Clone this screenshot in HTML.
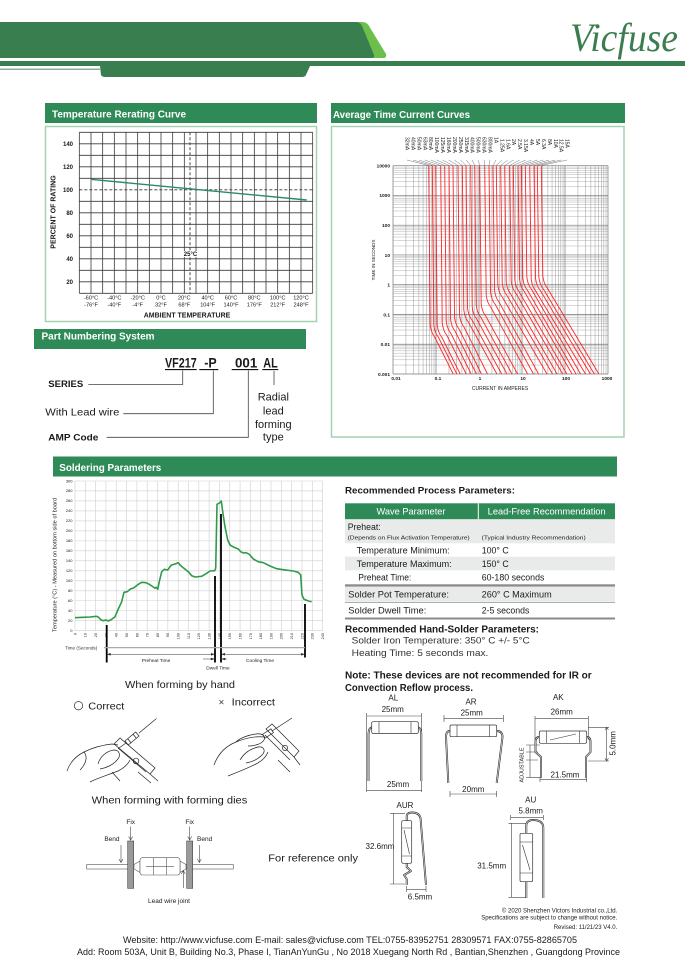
<!DOCTYPE html>
<html><head><meta charset="utf-8"><style>
html,body{margin:0;padding:0;background:#fff;}
svg{display:block;}
text{font-family:"Liberation Sans",Arial,sans-serif;fill:#1a1a1a;}
.b{font-weight:bold;}
.w{fill:#fff;font-weight:bold;}
.g{fill:#333;}
</style></head><body>
<svg width="685" height="960" viewBox="0 0 685 960" xmlns="http://www.w3.org/2000/svg">
<!-- HEADER -->
<path d="M0 22H362Q367 22 369 26L386 54Q387 58 383 58H0Z" fill="#6dbf4b"/>
<path d="M0 22H356Q360 22 362 26L374 55Q375 58 371 58H0Z" fill="#387e4e"/>
<rect x="0" y="61" width="685" height="5" fill="#387e4e"/>
<rect x="0" y="68.5" width="100" height="1.5" fill="#8fae98"/>
<path d="M100 66H310L306 75Q305 77 302 77H105Q102 77 101 75Z" fill="#387e4e"/>
<text x="570" y="51" style="font-family:'Liberation Serif',serif;font-style:italic;font-size:40px;fill:#3c7d50" textLength="108" lengthAdjust="spacingAndGlyphs">Vicfuse</text>

<!-- TEMPERATURE RERATING -->
<rect x="45" y="103" width="272" height="20" fill="#2e8b57"/>
<text x="52" y="117.5" class="w" font-size="10.5" textLength="134" lengthAdjust="spacingAndGlyphs">Temperature Rerating Curve</text>
<rect x="45.5" y="126.5" width="271" height="195" fill="none" stroke="#a3d3b0" stroke-width="1.5"/>
<g stroke="#3a3a3a" stroke-width="0.8" fill="none">
<path d="M79.33 132.3V293.3M91 132.3V293.3M102.67 132.3V293.3M114.33 132.3V293.3M126 132.3V293.3M137.67 132.3V293.3M149.33 132.3V293.3M161 132.3V293.3M172.67 132.3V293.3M184.33 132.3V293.3M196 132.3V293.3M207.67 132.3V293.3M219.33 132.3V293.3M231 132.3V293.3M242.67 132.3V293.3M254.33 132.3V293.3M266 132.3V293.3M277.67 132.3V293.3M289.33 132.3V293.3M301 132.3V293.3M312.67 132.3V293.3"/>
<path d="M79.33 132.3H312.67M79.33 143.8H312.67M79.33 155.3H312.67M79.33 166.8H312.67M79.33 178.3H312.67M79.33 201.3H312.67M79.33 212.8H312.67M79.33 224.3H312.67M79.33 235.8H312.67M79.33 247.3H312.67M79.33 258.8H312.67M79.33 270.3H312.67M79.33 281.8H312.67M79.33 293.3H312.67"/>
</g>
<path d="M79.33 189.8H312.67M190 132.3V293.3" stroke="#333" stroke-width="0.9" stroke-dasharray="3,2" fill="none"/>
<line x1="90.7" y1="179.3" x2="306.7" y2="200" stroke="#2a8a6a" stroke-width="1.4"/>
<rect x="183" y="251" width="15" height="6" fill="#fff"/>
<text x="190.5" y="256" class="b" font-size="6" text-anchor="middle">25°C</text>
<g class="b" font-size="6" text-anchor="end">
<text x="73" y="146">140</text><text x="73" y="169">120</text><text x="73" y="192">100</text><text x="73" y="215">80</text><text x="73" y="238">60</text><text x="73" y="261">40</text><text x="73" y="284">20</text>
</g>
<g font-size="5.6" text-anchor="middle">
<text x="91" y="299.5">-60°C</text><text x="91" y="306.5">-76°F</text>
<text x="114.3" y="299.5">-40°C</text><text x="114.3" y="306.5">-40°F</text>
<text x="137.7" y="299.5">-20°C</text><text x="137.7" y="306.5">-4°F</text>
<text x="161" y="299.5">0°C</text><text x="161" y="306.5">32°F</text>
<text x="184.3" y="299.5">20°C</text><text x="184.3" y="306.5">68°F</text>
<text x="207.7" y="299.5">40°C</text><text x="207.7" y="306.5">104°F</text>
<text x="231" y="299.5">60°C</text><text x="231" y="306.5">140°F</text>
<text x="254.3" y="299.5">80°C</text><text x="254.3" y="306.5">176°F</text>
<text x="277.7" y="299.5">100°C</text><text x="277.7" y="306.5">212°F</text>
<text x="301" y="299.5">120°C</text><text x="301" y="306.5">248°F</text>
</g>
<text x="187" y="317.5" class="b" font-size="7" text-anchor="middle">AMBIENT TEMPERATURE</text>
<text transform="translate(55.5,212) rotate(-90)" class="b" font-size="7" text-anchor="middle">PERCENT OF RATING</text>

<!-- AVERAGE TIME CURRENT -->
<rect x="331" y="103" width="294" height="20" fill="#2e8b57"/>
<text x="333" y="118" class="w" font-size="10.5" textLength="137" lengthAdjust="spacingAndGlyphs">Average Time Current Curves</text>
<rect x="331.5" y="126.5" width="292.5" height="310.5" fill="none" stroke="#a3d3b0" stroke-width="1.5"/>
<g fill="none">
<path stroke="#b0b0b0" stroke-width="0.5" d="M393 365.04H608M393 359.8H608M393 356.08H608M393 353.2H608M393 350.84H608M393 348.85H608M393 347.13H608M393 345.61H608M393 335.28H608M393 330.04H608M393 326.32H608M393 323.44H608M393 321.08H608M393 319.09H608M393 317.37H608M393 315.85H608M393 305.52H608M393 300.28H608M393 296.56H608M393 293.68H608M393 291.32H608M393 289.33H608M393 287.61H608M393 286.09H608M393 275.76H608M393 270.52H608M393 266.8H608M393 263.92H608M393 261.56H608M393 259.57H608M393 257.85H608M393 256.33H608M393 246H608M393 240.76H608M393 237.04H608M393 234.16H608M393 231.8H608M393 229.81H608M393 228.09H608M393 226.57H608M393 216.24H608M393 211H608M393 207.28H608M393 204.4H608M393 202.04H608M393 200.05H608M393 198.33H608M393 196.81H608M393 186.48H608M393 181.24H608M393 177.52H608M393 174.64H608M393 172.28H608M393 170.29H608M393 168.57H608M393 167.05H608"/>
<path stroke="#999" stroke-width="0.5" d="M405.94 165.7V374M413.52 165.7V374M418.89 165.7V374M423.06 165.7V374M426.46 165.7V374M429.34 165.7V374M431.83 165.7V374M434.03 165.7V374M448.94 165.7V374M456.52 165.7V374M461.89 165.7V374M466.06 165.7V374M469.46 165.7V374M472.34 165.7V374M474.83 165.7V374M477.03 165.7V374M491.94 165.7V374M499.52 165.7V374M504.89 165.7V374M509.06 165.7V374M512.46 165.7V374M515.34 165.7V374M517.83 165.7V374M520.03 165.7V374M534.94 165.7V374M542.52 165.7V374M547.89 165.7V374M552.06 165.7V374M555.46 165.7V374M558.34 165.7V374M560.83 165.7V374M563.03 165.7V374M577.94 165.7V374M585.52 165.7V374M590.89 165.7V374M595.06 165.7V374M598.46 165.7V374M601.34 165.7V374M603.83 165.7V374M606.03 165.7V374"/>
<path stroke="#777" stroke-width="0.7" d="M393 374H608M393 344.24H608M393 314.48H608M393 284.72H608M393 254.96H608M393 225.2H608M393 195.44H608M393 165.68H608M393 165.7V374M436 165.7V374M479 165.7V374M522 165.7V374M565 165.7V374M608 165.7V374"/>
</g>
<g fill="none" stroke="#ff2424" stroke-width="0.9">
<path d="M428.7 165.7L430.2 325Q431.2 333 434.7 337L453.2 374"/>
<path d="M432.3 165.7L433.8 325Q434.8 333 438.3 337L456.8 374"/>
<path d="M435.7 165.7L437.2 325Q438.2 333 441.7 337L460.2 374"/>
<path d="M440.7 165.7L442.2 323Q443.2 331 446.7 335L466.2 374"/>
<path d="M444.7 165.7L446.2 321Q447.2 329 450.7 333L471.2 374"/>
<path d="M449 165.7L450.5 319Q451.5 327 455 331L476.5 374"/>
<path d="M453 165.7L454.5 317Q455.5 325 459 329L481.5 374"/>
<path d="M458 165.7L459.5 315Q460.5 323 464 327L487.5 374"/>
<path d="M462.3 165.7L463.8 310Q464.8 318 468.3 322L496.9 374"/>
<path d="M466 165.7L467.5 308Q468.5 316 472 320L501.7 374"/>
<path d="M470.7 165.7L472.2 307Q473.2 315 476.7 319L507 374"/>
<path d="M474.7 165.7L476.2 305Q477.2 313 480.7 317L512 374"/>
<path d="M479.7 165.7L481.2 304Q482.2 312 485.7 316L517.6 374"/>
<path d="M484.7 165.7L486.2 295Q487.2 303 490.7 307L527.6 374"/>
<path d="M489 165.7L490.5 292Q491.5 300 495 304L533.5 374"/>
<path d="M493 165.7L494.5 290Q495.5 298 499 302L538.6 374"/>
<path d="M496.3 165.7L497.8 285Q498.8 293 502.3 297L547 374"/>
<path d="M500.7 165.7L502.2 283Q503.2 291 506.7 295L552.5 374"/>
<path d="M504.7 165.7L506.2 282Q507.2 290 510.7 294L557.1 374"/>
<path d="M509.7 165.7L511.2 281Q512.2 289 515.7 293L562.7 374"/>
<path d="M513.3 165.7L514.8 280Q515.8 288 519.3 292L566.9 374"/>
<path d="M518 165.7L519.5 279Q520.5 287 524 291L572.1 374"/>
<path d="M521.3 165.7L522.8 278Q523.8 286 527.3 290L576 374"/>
<path d="M525.3 165.7L526.8 277Q527.8 285 531.3 289L580.6 374"/>
<path d="M529.7 165.7L531.2 279Q532.2 287 535.7 291L585.5 374"/>
<path d="M534 165.7L535.5 278Q536.5 286 540 290L590.4 374"/>
<path d="M537.3 165.7L538.8 277Q539.8 285 543.3 289L594.3 374"/>
<path d="M541.3 165.7L542.8 276Q543.8 284 547.3 288L598.9 374"/>
</g>
<g stroke="#555" stroke-width="0.4" fill="none">
<path d="M407 160L428.7 165.5M412.9 160L432.3 165.5M418.9 160L435.7 165.5M424.8 160L440.7 165.5M430.7 160L444.7 165.5M436.7 160L449 165.5M442.6 160L453 165.5M448.5 160L458 165.5M454.4 160L462.3 165.5M460.4 160L466 165.5M466.3 160L470.7 165.5M472.2 160L474.7 165.5M478.2 160L479.7 165.5M484.1 160L484.7 165.5M490 160L489 165.5M496 160L493 165.5M501.9 160L496.3 165.5M507.8 160L500.7 165.5M513.7 160L504.7 165.5M519.7 160L509.7 165.5M525.6 160L513.3 165.5M531.5 160L518 165.5M537.5 160L521.3 165.5M543.4 160L525.3 165.5M549.3 160L529.7 165.5M555.3 160L534 165.5M561.2 160L537.3 165.5M567.1 160L541.3 165.5"/>
</g>
<g font-size="5" class="g">
<text transform="translate(405.5,137) rotate(90)">32mA</text>
<text transform="translate(411.4,137) rotate(90)">40mA</text>
<text transform="translate(417.4,137) rotate(90)">50mA</text>
<text transform="translate(423.3,137) rotate(90)">63mA</text>
<text transform="translate(429.2,137) rotate(90)">80mA</text>
<text transform="translate(435.2,137) rotate(90)">100mA</text>
<text transform="translate(441.1,137) rotate(90)">125mA</text>
<text transform="translate(447,137) rotate(90)">160mA</text>
<text transform="translate(452.9,137) rotate(90)">200mA</text>
<text transform="translate(458.9,137) rotate(90)">250mA</text>
<text transform="translate(464.8,137) rotate(90)">315mA</text>
<text transform="translate(470.7,137) rotate(90)">400mA</text>
<text transform="translate(476.7,137) rotate(90)">500mA</text>
<text transform="translate(482.6,137) rotate(90)">630mA</text>
<text transform="translate(488.5,137) rotate(90)">800mA</text>
<text transform="translate(494.5,137) rotate(90)">1A</text>
<text transform="translate(500.4,139) rotate(90)">1.25A</text>
<text transform="translate(506.3,139) rotate(90)">1.6A</text>
<text transform="translate(512.2,139) rotate(90)">2A</text>
<text transform="translate(518.2,139) rotate(90)">2.5A</text>
<text transform="translate(524.1,139) rotate(90)">3.15A</text>
<text transform="translate(530,139) rotate(90)">4A</text>
<text transform="translate(536,139) rotate(90)">5A</text>
<text transform="translate(541.9,139) rotate(90)">6.3A</text>
<text transform="translate(547.8,139) rotate(90)">8A</text>
<text transform="translate(553.8,139) rotate(90)">10A</text>
<text transform="translate(559.7,139) rotate(90)">12.5A</text>
<text transform="translate(565.6,139) rotate(90)">15A</text>
</g>
<g class="b" font-size="4.8" text-anchor="end">
<text x="390" y="167.5">10000</text><text x="390" y="197.2">1000</text><text x="390" y="227">100</text><text x="390" y="256.8">10</text><text x="390" y="286.5">1</text><text x="390" y="316.3">0.1</text><text x="390" y="346">0.01</text><text x="390" y="375.8">0.001</text>
</g>
<g class="b" font-size="4.8" text-anchor="middle">
<text x="396" y="380">0.01</text><text x="438" y="380">0.1</text><text x="480" y="380">1</text><text x="523" y="380">10</text><text x="566" y="380">100</text><text x="607" y="380">1000</text>
</g>
<text x="500" y="390" font-size="5" text-anchor="middle">CURRENT IN AMPERES</text>
<text transform="translate(375,260) rotate(-90)" font-size="4.6" text-anchor="middle">TIME IN SECONDS</text>

<!-- PART NUMBERING -->
<rect x="34" y="329" width="272" height="20" fill="#2e8b57"/>
<text x="41.5" y="339.5" class="w" font-size="10" textLength="113" lengthAdjust="spacingAndGlyphs">Part Numbering System</text>
<g class="b" font-size="14">
<text x="165" y="367.5" textLength="31.7" lengthAdjust="spacingAndGlyphs">VF217</text>
<text x="204.3" y="367.5" textLength="12.4" lengthAdjust="spacingAndGlyphs">-P</text>
<text x="235" y="367.5" textLength="22.3" lengthAdjust="spacingAndGlyphs">001</text>
<text x="263.3" y="367.5" textLength="14.4" lengthAdjust="spacingAndGlyphs">AL</text>
</g>
<path d="M165 369.6H196.7M199.3 369.6H218.3M231.7 369.6H258.3M262.3 369.6H278.3" stroke="#111" stroke-width="1.1"/>
<g stroke="#444" stroke-width="0.8" fill="none">
<path d="M88.3 384.5H182.7V370.5"/>
<path d="M123.3 413.7H213.3V370.5"/>
<path d="M106.7 437.3H248.3V370.5"/>
<path d="M274 371V385"/>
</g>
<text x="48.3" y="387" class="b" font-size="9.5" textLength="35" lengthAdjust="spacingAndGlyphs">SERIES</text>
<text x="45.3" y="415.5" font-size="10.5" textLength="74" lengthAdjust="spacingAndGlyphs">With Lead wire</text>
<text x="48.3" y="440.5" class="b" font-size="9.5" textLength="50" lengthAdjust="spacingAndGlyphs">AMP Code</text>
<g font-size="11" text-anchor="middle">
<text x="273.3" y="400.5">Radial</text><text x="273.3" y="414.5">lead</text><text x="273.3" y="428">forming</text><text x="273.3" y="440.5">type</text>
</g>

<!-- SOLDERING -->
<rect x="53" y="456.5" width="564" height="20" fill="#2e8b57"/>
<text x="59.3" y="471" class="w" font-size="10.5" textLength="102" lengthAdjust="spacingAndGlyphs">Soldering Parameters</text>
<g stroke="#cfcfcf" stroke-width="0.6" fill="none">
<path d="M75 481V630.7M85.32 481V630.7M95.63 481V630.7M105.95 481V630.7M116.27 481V630.7M126.59 481V630.7M136.9 481V630.7M147.22 481V630.7M157.54 481V630.7M167.85 481V630.7M178.17 481V630.7M188.49 481V630.7M198.8 481V630.7M209.12 481V630.7M219.44 481V630.7M229.76 481V630.7M240.07 481V630.7M250.39 481V630.7M260.71 481V630.7M271.02 481V630.7M281.34 481V630.7M291.66 481V630.7M301.97 481V630.7M312.29 481V630.7M322.61 481V630.7"/>
<path d="M75 630.7H322.6M75 620.72H322.6M75 610.74H322.6M75 600.76H322.6M75 590.78H322.6M75 580.8H322.6M75 570.82H322.6M75 560.84H322.6M75 550.86H322.6M75 540.88H322.6M75 530.9H322.6M75 520.92H322.6M75 510.94H322.6M75 500.96H322.6M75 490.98H322.6M75 481H322.6"/>
</g>
<g font-size="4" text-anchor="end" class="g">
<text x="72.5" y="632">0</text><text x="72.5" y="622">20</text><text x="72.5" y="612">40</text><text x="72.5" y="602">60</text><text x="72.5" y="592">80</text><text x="72.5" y="582">100</text><text x="72.5" y="572">120</text><text x="72.5" y="562">140</text><text x="72.5" y="552">160</text><text x="72.5" y="542">180</text><text x="72.5" y="532">200</text><text x="72.5" y="522">220</text><text x="72.5" y="512">240</text><text x="72.5" y="502">260</text><text x="72.5" y="492">280</text><text x="72.5" y="482.5">300</text>
</g>
<g font-size="3.8" text-anchor="end" class="g">
<text transform="translate(76.4,633) rotate(-90)">0</text>
<text transform="translate(86.7,633) rotate(-90)">10</text>
<text transform="translate(97,633) rotate(-90)">20</text>
<text transform="translate(107.3,633) rotate(-90)">30</text>
<text transform="translate(117.7,633) rotate(-90)">40</text>
<text transform="translate(128,633) rotate(-90)">50</text>
<text transform="translate(138.3,633) rotate(-90)">60</text>
<text transform="translate(148.6,633) rotate(-90)">70</text>
<text transform="translate(158.9,633) rotate(-90)">80</text>
<text transform="translate(169.2,633) rotate(-90)">90</text>
<text transform="translate(179.6,633) rotate(-90)">100</text>
<text transform="translate(189.9,633) rotate(-90)">110</text>
<text transform="translate(200.2,633) rotate(-90)">120</text>
<text transform="translate(210.5,633) rotate(-90)">130</text>
<text transform="translate(220.8,633) rotate(-90)">140</text>
<text transform="translate(231.2,633) rotate(-90)">150</text>
<text transform="translate(241.5,633) rotate(-90)">160</text>
<text transform="translate(251.8,633) rotate(-90)">170</text>
<text transform="translate(262.1,633) rotate(-90)">180</text>
<text transform="translate(272.4,633) rotate(-90)">190</text>
<text transform="translate(282.7,633) rotate(-90)">200</text>
<text transform="translate(293.1,633) rotate(-90)">210</text>
<text transform="translate(303.4,633) rotate(-90)">220</text>
<text transform="translate(313.7,633) rotate(-90)">230</text>
<text transform="translate(324,633) rotate(-90)">240</text>
</g>
<text transform="translate(56.5,565) rotate(-90)" font-size="5.5" text-anchor="middle" textLength="134" lengthAdjust="spacingAndGlyphs">Temperature (°C) - Measured on bottom side of board</text>
<path fill="none" stroke="#2e9a4a" stroke-width="1.6" stroke-linejoin="round" d="M75 617.7L83.3 617.3L90 617L96.7 616.3L98.7 617.3L100.7 619.7L103.3 620.7L106 620L108.3 621L111.7 619.3L115 616.7L118.3 609L121.7 601.7L124 592.3L127.3 591.7L130 589.3L134 587.7L138.3 584.3L141.7 582.3L146 582.7L149.3 584.3L153.3 587L155 588.3L156.3 587.3L157.7 589.3L159.3 581.7L161.7 571.7L164.3 569.3L167.7 570L171 565.3L175 564L178.3 562.7L180 565L183.3 567.7L188.3 571.7L191.7 575.7L195 577L201.7 576.3L206.7 573.3L210 571L214.7 570.7L215.7 568.3L217 504.3L220 502.7L221.3 501L222.7 511.7L225 526.7L227.7 540L230 545L234 547.3L238.3 549L240.7 551.7L243.3 553L246 552.7L249.3 554.3L253.3 559L258.3 561.7L263.3 562.7L270 566L276.7 568.7L283.3 569.7L293.3 571L298.3 572.3L300.7 575L302 595L304 599.3L308.3 601L311.7 601.7"/>
<g stroke="#000" stroke-width="1.8">
<path d="M106.7 625V662.5M215 576V662.5M221 514V662.5M305 604V657.5"/>
</g>
<text x="65" y="649.5" font-size="4.6" class="g">Time (Seconds)</text>
<path d="M104 647.6H305" stroke="#aaa" stroke-width="1.3"/>
<g stroke="#333" stroke-width="0.5" fill="#333">
<path d="M107.5 654.3H214.2" fill="none"/><path d="M107.5 654.3l3 -1v2z"/><path d="M214.2 654.3l-3 -1v2z"/>
<path d="M221.8 654.3H304.2" fill="none"/><path d="M221.8 654.3l3 -1v2z"/><path d="M304.2 654.3l-3 -1v2z"/>
<path d="M203 659H214" fill="none"/><path d="M214 659l-3 -1v2z"/>
<path d="M227 659H222" fill="none"/><path d="M222 659l3 -1v2z"/>
</g>
<g font-size="4.8" text-anchor="middle" class="g">
<text x="156" y="662">Preheat Time</text><text x="260" y="662">Cooling Time</text><text x="218" y="669.5">Dwell Time</text>
</g>

<!-- PROCESS PARAMETERS -->
<text x="345" y="493.5" class="b" font-size="9.5" textLength="170" lengthAdjust="spacingAndGlyphs">Recommended Process Parameters:</text>
<rect x="345" y="503.3" width="270" height="16" fill="#2e8b57"/>
<line x1="478.3" y1="503.3" x2="478.3" y2="519.3" stroke="#fff" stroke-width="1"/>
<text x="411" y="514.5" class="w" font-size="9" text-anchor="middle" style="font-weight:normal" textLength="69" lengthAdjust="spacingAndGlyphs">Wave Parameter</text>
<text x="546.7" y="514.5" class="w" font-size="9" text-anchor="middle" style="font-weight:normal" textLength="118" lengthAdjust="spacingAndGlyphs">Lead-Free Recommendation</text>
<rect x="345" y="519.3" width="270" height="24" fill="#e8ebe9"/>
<rect x="345" y="556.7" width="270" height="13.6" fill="#e8ebe9"/>
<rect x="345" y="584.3" width="270" height="2.4" fill="#8a8a8a"/>
<rect x="345" y="586.7" width="270" height="15" fill="#e8ebe9"/>
<rect x="345" y="602" width="270" height="0.8" fill="#999"/>
<rect x="345" y="617.5" width="270" height="2" fill="#8a8a8a"/>
<g font-size="9" class="g">
<text x="347.7" y="530" fill="#222" textLength="33" lengthAdjust="spacingAndGlyphs">Preheat:</text>
<text x="347.7" y="539.5" font-size="5.3" textLength="122" lengthAdjust="spacingAndGlyphs">(Depends on Flux Activation Temperature)</text>
<text x="481.7" y="539.5" font-size="5.3" textLength="104" lengthAdjust="spacingAndGlyphs">(Typical Industry Recommendation)</text>
<text x="356.7" y="553.5" textLength="93" lengthAdjust="spacingAndGlyphs">Temperature Minimum:</text>
<text x="481.7" y="553.5" textLength="27" lengthAdjust="spacingAndGlyphs">100° C</text>
<text x="356.7" y="567" textLength="95" lengthAdjust="spacingAndGlyphs">Temperature Maximum:</text>
<text x="481.7" y="567" textLength="27" lengthAdjust="spacingAndGlyphs">150° C</text>
<text x="358.3" y="580.5" textLength="53" lengthAdjust="spacingAndGlyphs">Preheat Time:</text>
<text x="481.7" y="580.5" textLength="62.7" lengthAdjust="spacingAndGlyphs">60-180 seconds</text>
<text x="348.3" y="597.5" fill="#222" textLength="100.7" lengthAdjust="spacingAndGlyphs">Solder Pot Temperature:</text>
<text x="481.7" y="597.5" textLength="70" lengthAdjust="spacingAndGlyphs">260° C Maximum</text>
<text x="348.3" y="613.5" fill="#222" textLength="78" lengthAdjust="spacingAndGlyphs">Solder Dwell Time:</text>
<text x="481.7" y="613.5" textLength="47.7" lengthAdjust="spacingAndGlyphs">2-5 seconds</text>
</g>
<text x="345" y="632.5" class="b" font-size="10" textLength="194" lengthAdjust="spacingAndGlyphs">Recommended Hand-Solder Parameters:</text>
<text x="351.7" y="643.5" font-size="9.5" class="g" textLength="178" lengthAdjust="spacingAndGlyphs">Solder Iron Temperature:  350° C +/- 5°C</text>
<text x="351.7" y="656" font-size="9.5" class="g" textLength="136.7" lengthAdjust="spacingAndGlyphs">Heating Time:  5 seconds max.</text>
<text x="345" y="678.5" class="b" font-size="10" textLength="246.7" lengthAdjust="spacingAndGlyphs">Note:  These devices are not recommended for IR or</text>
<text x="345" y="691" class="b" font-size="10" textLength="128" lengthAdjust="spacingAndGlyphs">Convection Reflow process.</text>

<!-- FORMING -->
<text x="125" y="688" font-size="10.5" textLength="110" lengthAdjust="spacingAndGlyphs">When forming by hand</text>
<circle cx="78.5" cy="705.7" r="4.2" fill="none" stroke="#333" stroke-width="0.7"/>
<text x="88.3" y="709.5" font-size="10.5" textLength="36" lengthAdjust="spacingAndGlyphs">Correct</text>
<text x="218.5" y="705.5" font-size="10" class="g">×</text>
<text x="231.7" y="705.5" font-size="10.5" textLength="43.3" lengthAdjust="spacingAndGlyphs">Incorrect</text>
<g fill="none" stroke="#222" stroke-width="0.7">
<path d="M156.5 718.5L139 733"/>
<g transform="translate(132,738.5) rotate(-40)"><rect x="-7" y="-2.6" width="14" height="5.2" fill="#fff"/><path d="M-3.5 -2.6V2.6M3.5 -2.6V2.6"/></g>
<path d="M126 743L119 748"/>
<path d="M114 744L120 738L155 768L150 774Z"/>
<path d="M118 748L146 772"/>
<circle cx="136" cy="761" r="2.8"/>
<path d="M138 772L151 783M150 774L158 781"/>
<path d="M67 771C70 762 76 756 84 752C92 748 102 745 112 744L118 745"/>
<path d="M84 752C88 757 86 764 80 770"/>
<path d="M98 764C100 757 106 751 114 750C120 750 121 756 117 760C113 765 106 768 100 769"/>
<path d="M90 782C98 778 108 775 118 771C124 768 128 764 130 760"/>
<path d="M112 772L120 781"/>
<path d="M292 718L272 731"/>
<g transform="translate(268,733.5) rotate(-33)"><rect x="-5" y="-2.3" width="10" height="4.6" fill="#fff"/></g>
<path d="M266 729L272 724L299 751L294 757Z"/>
<path d="M265 735L290 760"/>
<circle cx="285" cy="748" r="2.6"/>
<path d="M278 760L290 772M294 757L300 765"/>
<path d="M214 765C218 754 226 746 236 742C246 738 256 736 264 737"/>
<path d="M236 742C240 738 248 735 256 734C262 733 266 736 264 740C262 744 254 746 248 746"/>
<path d="M240 760C244 753 250 749 258 747C264 746 266 751 262 755C258 759 252 762 246 763"/>
<path d="M228 776C238 772 248 768 256 764C262 761 266 757 268 752"/>
</g>
<text x="91.7" y="803.5" font-size="10.5" textLength="155.6" lengthAdjust="spacingAndGlyphs">When forming with forming dies</text>
<g font-size="6.5">
<text x="130.7" y="824" text-anchor="middle">Fix</text>
<text x="189.7" y="824" text-anchor="middle">Fix</text>
<text x="119.5" y="841" text-anchor="end">Bend</text>
<text x="197" y="841">Bend</text>
<text x="169" y="903" text-anchor="middle">Lead wire joint</text>
</g>
<rect x="86.7" y="864.5" width="146.6" height="4.5" fill="#fff" stroke="#555" stroke-width="0.6"/>
<path d="M134 864.5L140 861V872.5L134 869Z M186 864.5L180 861V872.5L186 869Z" fill="#fff" stroke="#555" stroke-width="0.6"/>
<rect x="140" y="857.7" width="40" height="17.3" rx="2.5" fill="#fff" stroke="#555" stroke-width="0.6"/>
<path d="M153.3 857.7V875M166.7 857.7V875M146 866.3H174" stroke="#555" stroke-width="0.6" fill="none"/>
<rect x="127.7" y="841" width="6" height="47.3" fill="#9a9a9a" stroke="#444" stroke-width="0.6"/>
<rect x="186.7" y="841" width="6" height="47.3" fill="#9a9a9a" stroke="#444" stroke-width="0.6"/>
<g stroke="#444" stroke-width="0.6" fill="none">
<path d="M130.7 826.5V840M128.7 836.5L130.7 840L132.7 836.5"/>
<path d="M189.7 826.5V840M187.7 836.5L189.7 840L191.7 836.5"/>
<path d="M121 845V862.5M119 859L121 862.5L123 859"/>
<path d="M199.3 845V862.5M197.3 859L199.3 862.5L201.3 859"/>
<path d="M183.3 888V870.5M181.3 874L183.3 870.5L185.3 874"/>
</g>
<text x="268.3" y="861.5" font-size="10.5" textLength="89.7" lengthAdjust="spacingAndGlyphs">For reference only</text>

<!-- DIMENSION DRAWINGS -->
<g font-size="8" text-anchor="middle" class="g">
<text x="393.3" y="700.5">AL</text><text x="392.7" y="712">25mm</text><text x="398" y="787">25mm</text>
<text x="471" y="704.5">AR</text><text x="471.7" y="715.5">25mm</text><text x="473.3" y="792">20mm</text>
<text x="558.3" y="700">AK</text><text x="561.7" y="714.5">26mm</text><text x="565" y="777.5">21.5mm</text>
<text x="405" y="808">AUR</text><text x="380" y="849">32.6mm</text><text x="420" y="899.5">6.5mm</text>
<text x="530.7" y="802.5">AU</text><text x="530.7" y="813.5">5.8mm</text><text x="491.7" y="868.5">31.5mm</text>
<text transform="translate(615.5,743.3) rotate(-90)">5.0mm</text>
<text transform="translate(523.5,765) rotate(-90)" font-size="5.5">ADJUSTABLE</text>
</g>
<g stroke="#444" stroke-width="0.6" fill="none">
<path d="M366.7 716H421.7M366.7 713V792M421.7 713V792M366.7 790.7H421.7"/>
<path d="M444 718.3H503.3M444 715V722M503.3 715V722M450 794H496.7M450 791V797M496.7 791V797"/>
<path d="M535 718.3H588.3M535 716V740M588.3 716V740M540 779.3H586.7M540 777V782M586.7 777V782"/>
<path d="M588 727.3H609M588 761H609M606.7 727.3V761M605 730L606.7 727.3L608.4 730M605 758.3L606.7 761L608.4 758.3"/>
<path d="M530 745V777.3M526 745H540M526 752H538M526 760H538M526 777.3H540"/>
<path d="M393.3 813.3V884M390 813.3H405M390 884H405"/>
<path d="M406.7 889.3H426M406.7 886V892M426 886V892"/>
<path d="M510.7 817.3H543.3M510.7 815V820M543.3 815V820"/>
<path d="M511.7 823.3V897.3M508.5 823.3H526M508.5 897.3H526"/>
</g>
<g fill="none" stroke="#333" stroke-width="1.9" stroke-linejoin="round">
<path id="l1" d="M371.7 727.5Q368.5 728 368.5 735V781"/>
<path id="l2" d="M418.3 727.5Q421.3 728 421.3 735V781"/>
<path id="l3" d="M450 731Q446 731 446 737L448.3 783"/>
<path id="l4" d="M496.7 731Q502.5 731 502.5 737L496.7 783"/>
<path id="l5" d="M539.3 737Q535.5 737 535.5 742V752L541 757V778"/>
<path id="l6" d="M586.7 737Q590.5 737 590.5 742V752L586 757V778"/>
<path id="l7" d="M406.7 820.7V816Q407 812.5 412 812.5Q419 812.5 420.5 818L426 885"/>
<path id="l8" d="M406.7 863.3V867L411 871L404 875L406.7 879V885"/>
<path id="l9" d="M526.3 833.3V825Q527 820 533 820Q543.3 820 543.3 828V898"/>
<path id="l10" d="M526.3 881.7V898"/>
</g>
<g fill="none" stroke="#fff" stroke-width="0.6">
<use href="#l1"/><use href="#l2"/><use href="#l3"/><use href="#l4"/><use href="#l5"/><use href="#l6"/><use href="#l7"/><use href="#l8"/><use href="#l9"/><use href="#l10"/>
</g>
<g fill="#fff" stroke="#333" stroke-width="0.7">
<rect x="371.7" y="721.7" width="46.6" height="11.7" rx="1.5"/>
<rect x="450" y="725" width="46.7" height="11.7" rx="1.5"/>
<rect x="539.3" y="731" width="47.4" height="12.3" rx="1.5"/>
<rect x="401.7" y="820.7" width="10" height="42.6" rx="1.5"/>
<rect x="520" y="833.3" width="12.7" height="48.4" rx="1.5"/>
</g>
<g stroke="#333" stroke-width="0.6" fill="none">
<path d="M379 721.7V733.4M411 721.7V733.4"/>
<path d="M457 725V736.7M489.7 725V736.7"/>
<path d="M546.5 731V743.3M579.5 731V743.3M550 740L576 734"/>
<path d="M401.7 828H411.7M401.7 856H411.7M404 830L409.5 854"/>
<path d="M520 842H532.7M520 873H532.7M522.5 845L530 870"/>
</g>
<g font-size="6" text-anchor="end" class="g">
<text x="617.3" y="912.5">© 2020 Shenzhen Victors Industrial co.,Ltd.</text>
<text x="617.3" y="919.5">Specifications are subject to change without notice.</text>
<text x="617.3" y="929">Revised: 11/21/23    V4.0.</text>
</g>

<!-- FOOTER -->
<text x="350" y="943" font-size="9.2" text-anchor="middle" textLength="454" lengthAdjust="spacingAndGlyphs">Website: http://www.vicfuse.com E-mail: sales@vicfuse.com TEL:0755-83952751 28309571  FAX:0755-82865705</text>
<text x="348.5" y="955" font-size="9.2" text-anchor="middle" textLength="543" lengthAdjust="spacingAndGlyphs">Add: Room 503A, Unit B, Building No.3, Phase I, TianAnYunGu , No 2018 Xuegang North Rd , Bantian,Shenzhen , Guangdong Province</text>
</svg>
</body></html>
